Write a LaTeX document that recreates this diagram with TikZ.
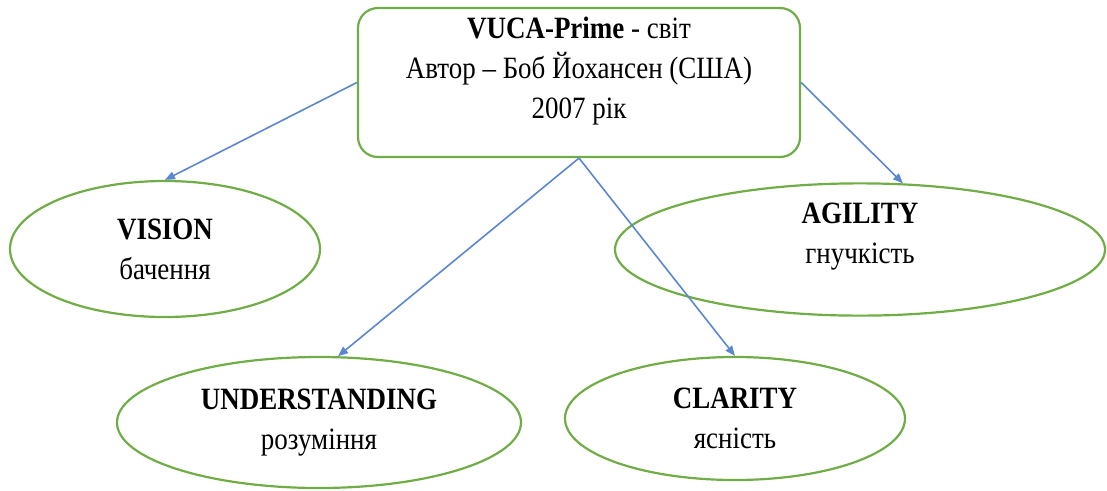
\documentclass[tikz,border=0pt]{standalone}
\usepackage{fontspec}
\setmainfont{Liberation Serif}[FakeStretch=0.87]
\usetikzlibrary{shapes.geometric, arrows.meta}
\definecolor{leafgreen}{HTML}{70AD47}
\definecolor{linkblue}{HTML}{5B87D0}

\begin{document}
\begin{tikzpicture}[x=1pt, y=-1pt,
		oval/.style={ellipse, draw=leafgreen, line width=2.2pt, inner sep=0pt,
			align=center, font=\fontsize{31}{40}\selectfont},
		link/.style={linkblue, line width=1.6pt, -{Triangle[length=10pt, width=8pt]}}]
	\useasboundingbox (0, 0) rectangle (1107, 490);
	% top box
	\node[draw=leafgreen, line width=2.2pt, rounded corners=20pt, minimum width=442pt,
		minimum height=149pt, align=center, font=\fontsize{31}{40}\selectfont] (prime) at (579, 82.5)
		{\textbf{VUCA-Prime} - світ\\ Автор – Боб Йохансен (США)\\ 2007 рік\\[-10pt] \mbox{}};
	% four ovals
	\node[oval, minimum width=310pt, minimum height=136pt] (vision) at (165, 249)
		{\textbf{VISION}\\ бачення};
	\node[oval, minimum width=490pt, minimum height=127pt] (agility) at (860, 249.5)
		{\textbf{AGILITY}\\ гнучкість\\[-7pt] \mbox{}};
	\node[oval, minimum width=404pt, minimum height=131pt] (understanding) at (319, 422.5)
		{\textbf{UNDERSTANDING}\\ розуміння};
	\node[oval, minimum width=340pt, minimum height=123pt] (clarity) at (735, 418.5)
		{\textbf{CLARITY}\\ ясність};
	% links
	\draw[link] (prime.west) -- (vision.north);
	\draw[link] (prime.south) -- (understanding.74);
	\draw[link] (prime.south) -- (clarity.north);
	\draw[link] (prime.east) -- (agility.57);
\end{tikzpicture}
\end{document}
